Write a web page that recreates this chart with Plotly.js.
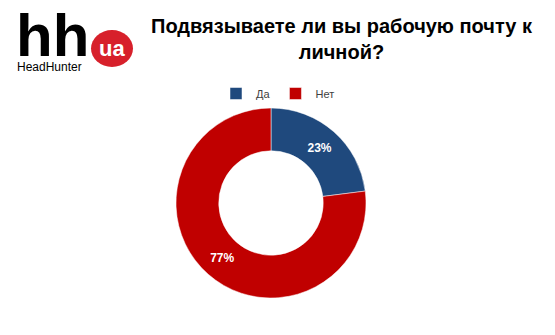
<!DOCTYPE html>
<html>
<head>
<meta charset="utf-8">
<script src="https://cdn.plot.ly/plotly-3.0.1.min.js"></script>
<style>html,body{margin:0;padding:0;background:#fff;}#chart{width:555px;height:335px;}</style>
</head>
<body>
<div id="chart"></div>
<script>
const categories = ["Да", "Нет"];
const values = [23, 77];
const colors = ["#1F497D", "#C00000"];
const titleText = "Подвязываете ли вы рабочую почту к<br>личной?";

const W = 555, H = 335;
function px(x){return x / W;}
function py(y){return 1 - y / H;}

const data = [{
  type: "pie",
  labels: categories,
  values: values,
  hole: 0.55,
  sort: false,
  direction: "clockwise",
  rotation: 0,
  marker: {colors: colors, line: {color: "#ffffff", width: 0.5}},
  textinfo: "percent",
  texttemplate: "%{percent:.0%}",
  textposition: "inside",
  insidetextorientation: "horizontal",
  textfont: {family: "Liberation Sans, Arial, sans-serif", size: 12, color: "#ffffff", weight: "bold"},
  domain: {x: [px(176), px(366)], y: [py(298), py(108)]},
  hoverinfo: "none"
}];

const layout = {
  width: W, height: H,
  margin: {l: 0, r: 0, t: 0, b: 0},
  paper_bgcolor: "#ffffff",
  showlegend: true,
  legend: {
    orientation: "h", x: px(278), xanchor: "center", y: py(79), yanchor: "top",
    font: {family: "Liberation Sans, Arial, sans-serif", size: 11, color: "#404040"},
    itemwidth: 30, traceorder: "normal", tracegroupgap: 0
  },
  shapes: [{
    type: "circle", xref: "paper", yref: "paper",
    x0: px(91), x1: px(133), y0: py(67), y1: py(30),
    fillcolor: "#D7202B", line: {width: 0}
  }],
  annotations: [
    {text: "<b>" + titleText + "</b>", xref: "paper", yref: "paper", x: px(342), y: py(39), xanchor: "center", yanchor: "middle",
     showarrow: false, font: {family: "Liberation Sans, Arial, sans-serif", size: 20, color: "#000000"}},
    {text: "<b>hh</b>", xref: "paper", yref: "paper", x: px(14), y: py(35), xanchor: "left", yanchor: "middle",
     height: 46, showarrow: false, font: {family: "Liberation Sans, Arial, sans-serif", size: 60, color: "#000000"}},
    {text: "<b>ua</b>", xref: "paper", yref: "paper", x: px(112), y: py(48), xanchor: "center", yanchor: "middle",
     showarrow: false, font: {family: "Liberation Sans, Arial, sans-serif", size: 22, color: "#ffffff"}},
    {text: "HeadHunter", xref: "paper", yref: "paper", x: px(15), y: py(67), xanchor: "left", yanchor: "middle",
     height: 12, showarrow: false, font: {family: "Liberation Sans, Arial, sans-serif", size: 12, color: "#000000"}}
  ]
};

Plotly.newPlot("chart", data, layout, {displayModeBar: false, staticPlot: true});
</script>
</body>
</html>
